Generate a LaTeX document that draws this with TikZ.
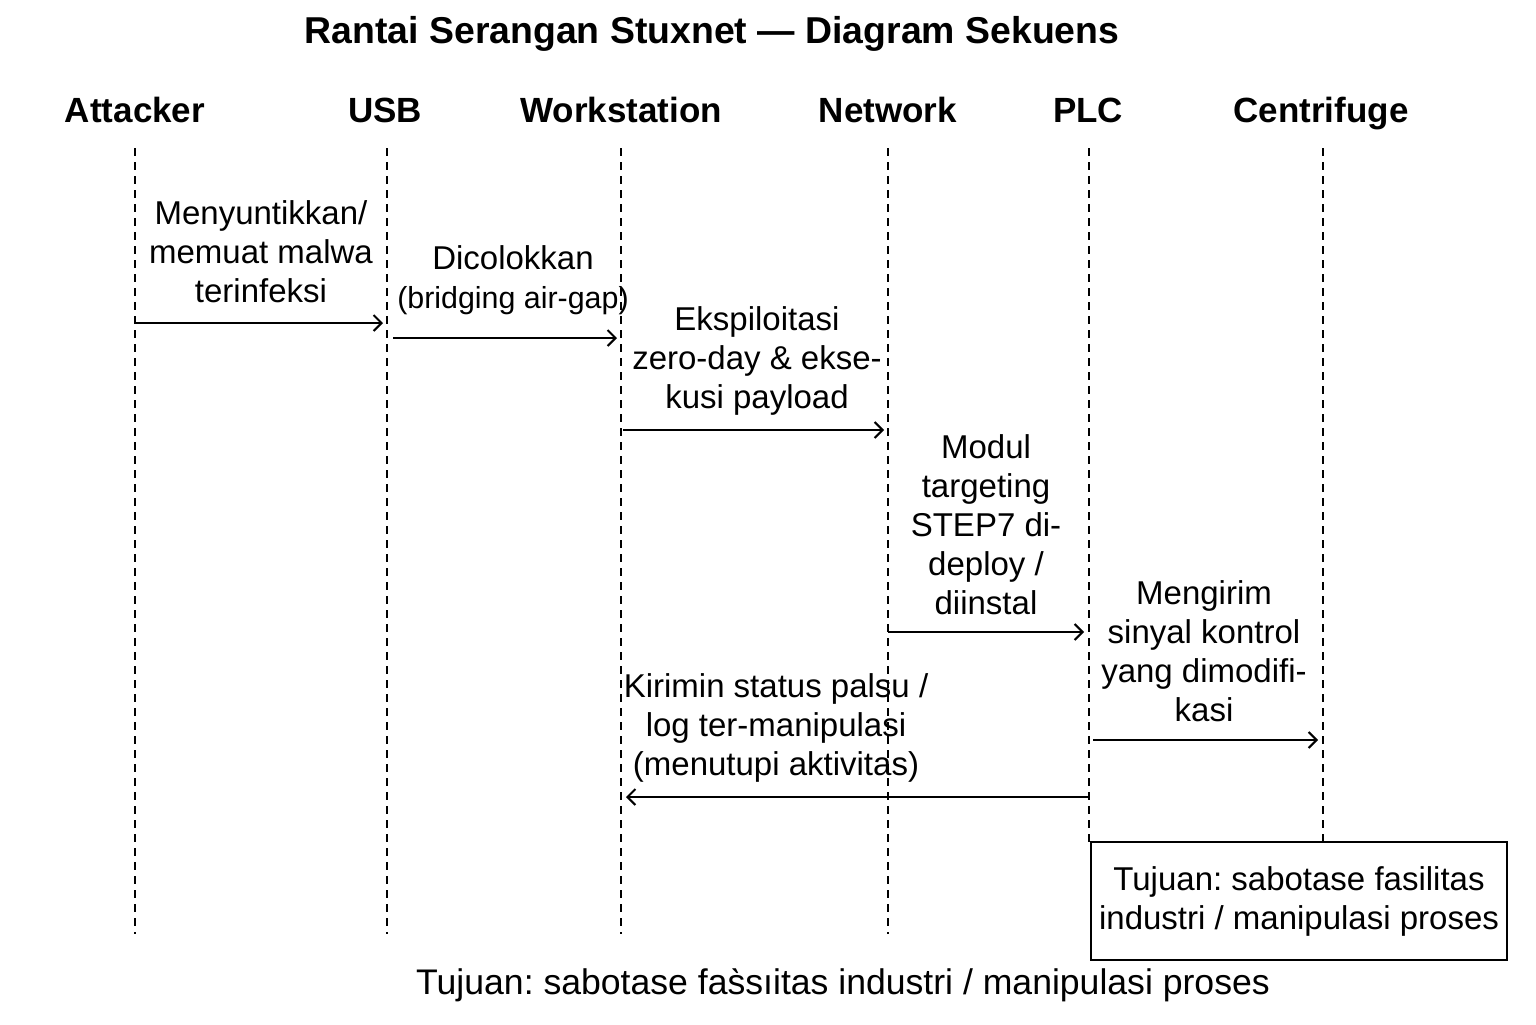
\documentclass[tikz,border=0pt]{standalone}
\usepackage{fontspec}
\setmainfont{Liberation Sans}
\frenchspacing
\usetikzlibrary{arrows,arrows.meta,positioning}
\begin{document}
\begin{tikzpicture}[x=0.5pt,y=-0.5pt,>={Straight Barb[length=4pt,width=8pt]}]
            \tikzstyle{actor} = [font=\fontsize{17.5}{21}\selectfont\bfseries, anchor=base]
            \tikzstyle{life} = [draw, dash pattern=on 4pt off 3pt, line width=0.6pt]
            \tikzstyle{msg} = [draw, ->, line width=1pt]
            \tikzstyle{label} = [align=center, font=\fontsize{16.5}{19.5}\selectfont]
            \useasboundingbox (0,0) rectangle (1536,1024);
            \node [font=\fontsize{18.7}{22}\selectfont\bfseries] (title) at (712,34) {Rantai Serangan Stuxnet — Diagram Sekuens};
            \node [actor] (attacker) at (135,122) {Attacker};
            \node [actor] (usb) at (385,122) {USB};
            \node [actor] (workstation) at (621,122) {Workstation};
            \node [actor] (network) at (888,122) {Network};
            \node [actor] (plc) at (1088,122) {PLC};
            \node [actor] (centrifuge) at (1321,122) {Centrifuge};

            \draw [life] (135,148) -- (135,934);
            \draw [life] (387,148) -- (387,934);
            \draw [life] (621,148) -- (621,934);
            \draw [life] (888,148) -- (888,934);
            \draw [life] (1089,148) -- (1089,842);
            \draw [life] (1323,148) -- (1323,842);

            \node [label] (inject) at (261,252) {Menyuntikkan/\\memuat malwa\\terinfeksi};
            \node [label] (plug) at (513,280) {Dicolokkan\\{\fontsize{15.2}{19.5}\selectfont(bridging air-gap)}};
            \node [label] (exploit) at (757,361) {Ekspiloitasi\\zero-day \& ekse-\\kusi payload};
            \node [label] (module) at (986,525) {Modul\\targeting\\STEP7 di-\\deploy /\\diinstal};
            \node [label] (signal) at (1204,651) {Mengirim\\sinyal kontrol\\yang dimodifi-\\kasi};
            \node [label] (fake) at (776,728) {Kirimin status palsu /\\log ter-manipulasi\\(menutupi aktivitas)};
            \node [label, draw, line width=1pt, minimum width=208pt, minimum height=59pt] (goal) at (1299,901) {Tujuan: sabotase fasilitas\\industri / manipulasi proses};
            \node [label, font=\fontsize{17.8}{21}\selectfont] (summary) at (843,985) {Tujuan: sabotase fas̀sıitas industri / manipulasi proses};

            \draw [msg] (135,323) -- (383,323);
            \draw [msg] (393,338) -- (617,338);
            \draw [msg] (623,430) -- (884,430);
            \draw [msg] (888,632) -- (1084,632);
            \draw [msg] (1093,740) -- (1318,740);
            \draw [msg] (1089,797) -- (626,797);
\end{tikzpicture}
\end{document}
